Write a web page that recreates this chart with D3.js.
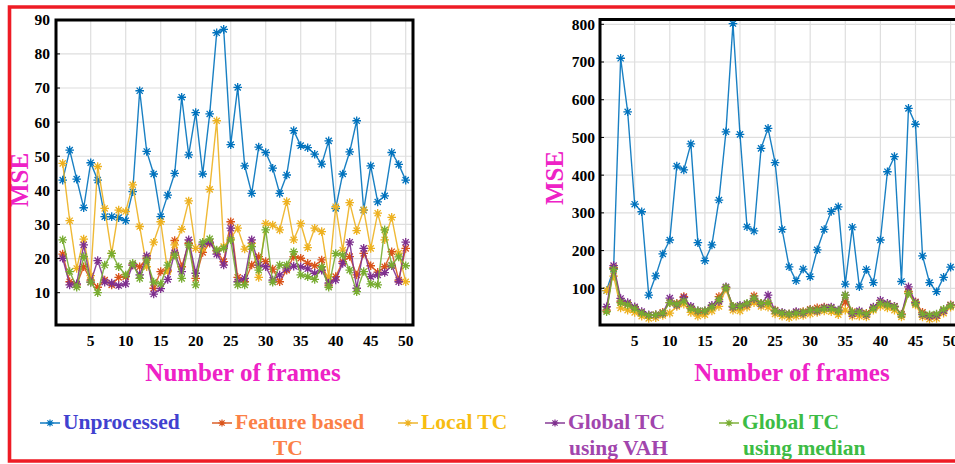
<!DOCTYPE html>
<html>
<head>
<meta charset="utf-8">
<script src="https://cdn.jsdelivr.net/npm/d3@7"></script>
<style>
  body { margin: 0; background: #fff; }
  svg { display: block; }
</style>
</head>
<body>
<svg id="fig" width="955" height="464"></svg>
<script>
// ---- data -------------------------------------------------------------
const frames = [1,2,3,4,5,6,7,8,9,10,11,12,13,14,15,16,17,18,19,20,21,22,23,24,25,
                26,27,28,29,30,31,32,33,34,35,36,37,38,39,40,41,42,43,44,45,46,47,48,49,50];
const xTickValues = [5,10,15,20,25,30,35,40,45,50];
const leftYTicks = [10,20,30,40,50,60,70,80,90];
const rightYTicks = [100,200,300,400,500,600,700,800];

const seriesNames = ["Unprocessed", "Feature based TC", "Local TC", "Global TC using VAH", "Global TC using median"];
const seriesColors = ["#0072BD", "#D95319", "#EDB120", "#7E2F8E", "#77AC30"];
const legendTextColors = ["#4141cf", "#fb8046", "#f7bd12", "#a145ad", "#3cbc45"];

// left panel (MSE, 0-90)
const leftUnprocessed = [43.0,51.8,43.3,34.9,48.1,43.0,32.3,32.3,32.0,31.1,39.6,69.2,51.4,44.8,32.3,38.6,45.0,67.3,50.4,62.8,
                         44.8,62.4,86.2,87.2,53.4,70.2,47.2,39.1,52.7,51.1,46.5,39.1,44.5,57.5,53.1,52.5,50.6,47.7,54.5,34.7,
                         44.8,51.3,60.4,34.2,47.2,36.6,38.4,51.1,47.6,43.0];
const leftFeature = [21.3,13.2,12.3,17.6,13.7,11.6,13.7,12.3,14.5,14.7,18.1,17.6,20.1,11.3,16.2,16.6,25.3,17.6,24.5,14.2,
                     21.8,24.5,22.3,19.1,30.8,14.5,13.2,18.1,20.6,19.1,16.9,13.2,16.6,20.6,20.1,18.6,17.9,19.6,12.2,14.7,
                     19.1,20.6,15.2,21.5,17.9,16.0,17.6,22.0,13.7,23.0];
const leftLocal = [47.9,31.1,17.1,25.7,15.0,47.0,34.7,21.5,34.2,33.8,41.6,29.4,17.6,24.8,30.8,16.2,24.0,28.6,36.9,23.0,
                   23.0,40.3,60.4,23.5,26.0,28.9,22.8,24.5,14.5,30.3,29.8,28.4,36.7,25.5,30.3,23.2,28.9,27.9,14.7,35.2,
                   22.5,36.4,28.2,34.3,23.0,33.3,25.5,32.1,21.6,13.2];
const leftVAH = [20.1,12.3,12.6,24.0,13.1,19.4,13.1,12.8,12.1,12.6,18.1,15.2,20.8,9.6,11.2,13.9,21.7,16.2,25.5,15.7,
                 24.2,24.8,21.3,18.1,28.9,13.2,14.2,25.5,18.1,17.6,13.7,15.2,17.0,17.8,17.6,17.0,15.7,16.6,12.8,13.7,
                 18.6,24.8,11.3,23.0,14.7,15.2,15.9,17.9,13.2,24.8];
const leftMedian = [25.5,16.2,11.6,20.6,13.1,10.0,18.1,21.5,17.6,15.2,18.6,14.2,19.6,13.1,12.6,18.1,21.0,14.2,24.0,12.3,
                    24.8,25.8,22.5,23.0,25.5,12.3,12.3,23.5,16.6,28.4,13.1,18.1,18.1,22.0,15.2,14.7,13.9,17.6,11.6,21.5,
                    21.0,16.6,10.3,16.2,12.6,12.3,28.4,18.1,20.5,17.9];

// right panel (MSE, 0-800)
const rightUnprocessed = [94,152,710,568,323,303,82,133,191,228,424,414,483,221,173,215,334,515,802,508,
                          263,252,471,524,433,256,157,120,151,131,202,256,304,316,111,262,104,150,115,228,
                          409,449,118,577,535,186,115,91,129,156];
const rightFeature = [42,155,66,58,48,34,28,30,36,62,60,78,48,36,38,50,78,102,52,50,
                      56,80,60,60,42,34,32,36,38,44,48,50,48,38,64,38,36,34,48,62,
                      58,52,32,92,64,36,28,30,42,56];
const rightLocal = [94,132,48,42,36,26,20,22,28,34,52,58,36,26,30,40,52,98,42,40,
                    50,62,52,50,32,26,22,26,28,32,36,40,38,30,42,26,26,24,42,52,
                    48,42,24,88,56,24,18,20,34,50];
const rightVAH = [51,160,73,62,51,38,30,29,33,74,56,75,52,40,40,55,65,104,50,55,
                  58,72,58,82,40,36,32,38,34,42,40,48,50,42,82,32,40,30,50,68,
                  60,52,30,104,62,30,26,28,40,55];
const rightMedian = [38,150,62,56,46,34,28,30,34,62,58,66,46,40,40,50,70,102,52,52,
                     60,74,60,62,40,34,32,34,36,42,42,46,46,40,82,36,36,32,46,60,
                     56,50,30,86,60,32,30,32,44,54];

// ---- drawing ----------------------------------------------------------
const svg = d3.select("#fig");
const serif = "'Liberation Serif', 'Times New Roman', serif";
const magenta = "#ee22c6";

// asterisk marker: plus + cross
function asterisk(r) {
  const a = r * 0.72;
  return `M0,${-r}V${r}M${-r},0H${r}M${-a},${-a}L${a},${a}M${-a},${a}L${a},${-a}`;
}

function drawPanel(cfg) {
  const g = svg.append("g");
  const x = d3.scaleLinear().domain([1, 50]).range(cfg.xRange);
  const y = d3.scaleLinear().domain([0, cfg.yMax]).range(cfg.yRange);
  const [L, T, R, B] = cfg.frame;

  // clip for the plot area
  const clipId = "clip" + cfg.id;
  svg.append("clipPath").attr("id", clipId)
    .append("rect").attr("x", L).attr("y", T).attr("width", R - L).attr("height", B - T);

  // gridlines
  g.append("g").selectAll("line").data(cfg.yTicks).join("line")
    .attr("x1", L).attr("x2", R).attr("y1", d => y(d)).attr("y2", d => y(d))
    .attr("stroke", "#dedede").attr("stroke-width", 1.2);
  g.append("g").selectAll("line").data(xTickValues).join("line")
    .attr("x1", d => x(d)).attr("x2", d => x(d)).attr("y1", T).attr("y2", B)
    .attr("stroke", "#dedede").attr("stroke-width", 1.2);

  // series
  const plot = g.append("g").attr("clip-path", `url(#${clipId})`);
  const line = d3.line().x((d, i) => x(frames[i])).y(d => y(d));
  cfg.series.forEach((vals, k) => {
    plot.append("path").datum(vals)
      .attr("d", line).attr("fill", "none")
      .attr("stroke", seriesColors[k]).attr("stroke-width", 1.4)
      .attr("stroke-opacity", 0.9);
    plot.append("g").selectAll("path").data(vals).join("path")
      .attr("transform", (d, i) => `translate(${x(frames[i])},${y(d)})`)
      .attr("d", asterisk(4.3))
      .attr("fill", "none").attr("stroke", seriesColors[k]).attr("stroke-width", 1.3);
  });

  // frame
  g.append("path")
    .attr("d", `M${L},${B}V${T}H${R}V${B}Z`)
    .attr("fill", "none").attr("stroke", "#000").attr("stroke-width", 3);

  // y tick marks and labels
  g.append("g").selectAll("line").data(cfg.yTicks).join("line")
    .attr("x1", L).attr("x2", L + 4).attr("y1", d => y(d)).attr("y2", d => y(d))
    .attr("stroke", "#000").attr("stroke-width", 1);
  g.append("g").selectAll("text").data(cfg.yTicks).join("text")
    .attr("x", cfg.yLabelX).attr("y", d => y(d)).attr("dy", "0.35em")
    .attr("text-anchor", "end")
    .attr("font-family", serif).attr("font-weight", "bold").attr("font-size", 15.5)
    .attr("fill", "#000").text(d => d);

  // x tick labels
  g.append("g").selectAll("text").data(xTickValues).join("text")
    .attr("x", d => x(d)).attr("y", cfg.xLabelY)
    .attr("text-anchor", "middle")
    .attr("font-family", serif).attr("font-weight", "bold").attr("font-size", 15.5)
    .attr("fill", "#000").text(d => d);

  // axis titles
  g.append("text")
    .attr("transform", `translate(${cfg.yTitleX},${cfg.yTitleY}) rotate(-90)`)
    .attr("text-anchor", "middle")
    .attr("font-family", serif).attr("font-weight", "bold").attr("font-size", 25)
    .attr("fill", magenta).text("MSE");
  g.append("text")
    .attr("x", cfg.xTitleX).attr("y", 381)
    .attr("text-anchor", "middle")
    .attr("font-family", serif).attr("font-weight", "bold").attr("font-size", 25)
    .attr("fill", magenta).text("Number of frames");
}

drawPanel({
  id: "L",
  frame: [56, 20, 413, 325],
  xRange: [62.7, 405.7],
  yMax: 90, yRange: [326.8, 19.8],
  yTicks: leftYTicks,
  yLabelX: 50, xLabelY: 346,
  yTitleX: 28, yTitleY: 180, xTitleX: 243,
  series: [leftUnprocessed, leftFeature, leftLocal, leftVAH, leftMedian]
});

drawPanel({
  id: "R",
  frame: [600, 19.5, 962, 325],
  xRange: [606.6, 950.6],
  yMax: 800, yRange: [326, 24.3],
  yTicks: rightYTicks,
  yLabelX: 595, xLabelY: 346,
  yTitleX: 563, yTitleY: 178, xTitleX: 792,
  series: [rightUnprocessed, rightFeature, rightLocal, rightVAH, rightMedian]
});

// legend
const legendItems = [
  { x: 40, lines: ["Unprocessed"], second: 0 },
  { x: 212, lines: ["Feature based", "TC"], second: 273 },
  { x: 398, lines: ["Local TC"], second: 0 },
  { x: 545, lines: ["Global TC", "using VAH"], second: 569 },
  { x: 719, lines: ["Global TC", "using median"], second: 743 }
];
const lg = svg.append("g");
legendItems.forEach((it, k) => {
  const cy = 423;
  lg.append("line").attr("x1", it.x).attr("x2", it.x + 20).attr("y1", cy).attr("y2", cy)
    .attr("stroke", seriesColors[k]).attr("stroke-width", 1.4);
  lg.append("path").attr("transform", `translate(${it.x + 10},${cy})`)
    .attr("d", asterisk(3.6)).attr("fill", "none")
    .attr("stroke", seriesColors[k]).attr("stroke-width", 1.2);
  lg.append("text").attr("x", it.x + 23).attr("y", 429)
    .attr("font-family", serif).attr("font-weight", "bold").attr("font-size", 21.5)
    .attr("fill", legendTextColors[k]).text(it.lines[0]);
  if (it.lines[1]) {
    lg.append("text").attr("x", it.second).attr("y", 455)
      .attr("font-family", serif).attr("font-weight", "bold").attr("font-size", 21.5)
      .attr("fill", legendTextColors[k]).text(it.lines[1]);
  }
});

// red outline of the figure
svg.append("path")
  .attr("d", "M957,7H9.5V461H957")
  .attr("fill", "none").attr("stroke", "#ee1c25").attr("stroke-width", 3.6);
</script>
</body>
</html>
